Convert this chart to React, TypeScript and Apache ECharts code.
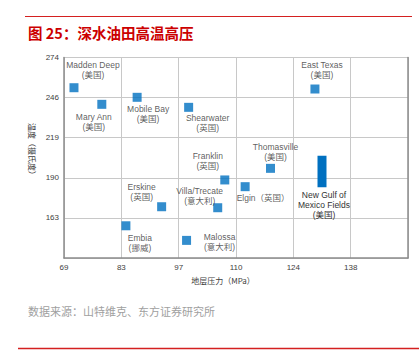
import React, { useEffect, useRef } from "react";
import * as echarts from "echarts";

// ---- data ----
const sites = ["Madden Deep", "Mary Ann", "Mobile Bay", "Shearwater", "East Texas", "Thomasville", "Franklin", "Villa/Trecate", "Elgin", "Erskine", "Embia", "Malossa"];
const countries = ["美国", "美国", "美国", "英国", "美国", "美国", "英国", "意大利", "英国", "英国", "挪威", "意大利"];
const pressure = [71.4, 78.1, 86.6, 99.0, 129.4, 118.7, 107.7, 106.0, 112.6, 92.5, 83.9, 98.5];
const temperature = [253.4, 241.8, 246.7, 239.7, 252.5, 197.1, 189.0, 169.6, 184.3, 170.3, 157.0, 146.8];

const gulfName = "New Gulf of\nMexico Fields";
const gulfCountry = "美国";
const gulfPressure = 131.1;
const gulfTempRange = [183.9, 205.9];

const xTickLabels = ["69", "83", "97", "110", "124", "138", ""];
const yTickLabels = ["", "163", "190", "219", "246", "274"];

// axis frames (axes drawn from an offset origin)
const X_MIN = 69;
const X_STEP = 13.8;
const X_COUNT = 6;
const Y_MIN = 134.5;
const Y_STEP = 28;
const Y_COUNT = 5;

// label offsets relative to marker centre (style)
const labelOffsets: Record<string, [number, number]> = {
  "Madden Deep": [19, -17.5],
  "Mary Ann": [-8, 17.5],
  "Mobile Bay": [11, 17],
  "Shearwater": [19, 16],
  "East Texas": [7, -19],
  "Thomasville": [5, -16],
  "Franklin": [-17, -19],
  "Villa/Trecate": [-18, -12],
  "Elgin": [18, 11.5],
  "Erskine": [-20, -15],
  "Embia": [14, 17],
  "Malossa": [33, 2],
};

const LATIN = '"Liberation Sans", Arial, "Noto Sans CJK SC", sans-serif';
const CJK = '"Noto Sans CJK SC", "Liberation Sans", sans-serif';
const BLUE = "#0070c0";
const RED = "#d42020";

export default function App() {
  const ref = useRef<HTMLDivElement>(null);
  useEffect(() => {
    if (!ref.current) return;
    const chart = echarts.init(ref.current, null, { renderer: "svg" });

    const scatterData = sites.map((s, i) => {
      const label = s === "Elgin" ? `${s}（${countries[i]}）` : `${s}\n(${countries[i]})`;
      return {
        value: [pressure[i] - X_MIN, temperature[i] - Y_MIN],
        label: {
          show: true,
          formatter: label,
          position: "inside",
          offset: labelOffsets[s],
          align: "center",
          verticalAlign: "middle",
        },
      };
    });

    const option: any = {
      animation: false,
      grid: { left: 64, top: 57.5, right: 11, bottom: 102, containLabel: false },
      xAxis: {
        type: "value",
        min: 0,
        max: X_STEP * X_COUNT,
        interval: X_STEP,
        axisLine: { show: true, lineStyle: { color: "#8c8c8c", width: 1.5 } },
        axisTick: { show: false },
        splitLine: { show: true, lineStyle: { color: "#c8c8c8", width: 1 } },
        axisLabel: {
          margin: 5,
          fontSize: 8,
          color: "#404040",
          fontFamily: LATIN,
          formatter: (_v: number, idx: number) => xTickLabels[idx] ?? "",
          showMaxLabel: false,
        },
      },
      yAxis: [
        {
          type: "value",
          min: 0,
          max: Y_STEP * Y_COUNT,
          interval: Y_STEP,
          axisLine: { show: true, lineStyle: { color: "#8c8c8c", width: 1.5 } },
          axisTick: { show: false },
          splitLine: { show: true, lineStyle: { color: "#c8c8c8", width: 1 } },
          axisLabel: {
            margin: 5,
            fontSize: 8,
            color: "#404040",
            fontFamily: LATIN,
            formatter: (_v: number, idx: number) => yTickLabels[idx] ?? "",
          },
        },
        {
          type: "value",
          position: "right",
          min: 0,
          max: Y_STEP * Y_COUNT,
          interval: Y_STEP,
          axisLine: { show: true, lineStyle: { color: "#8c8c8c", width: 1.5 } },
          axisTick: { show: false },
          axisLabel: { show: false },
          splitLine: { show: false },
        },
      ],
      series: [
        {
          type: "scatter",
          symbol: "rect",
          symbolSize: 9,
          itemStyle: { color: BLUE },
          label: {
            fontSize: 8.5,
            lineHeight: 10,
            color: "#333",
            fontFamily: LATIN,
          },
          data: scatterData,
        },
        {
          type: "custom",
          data: [[gulfPressure - X_MIN, gulfTempRange[0] - Y_MIN, gulfTempRange[1] - Y_MIN]],
          renderItem: (_params: any, api: any) => {
            const lo = api.coord([api.value(0), api.value(1)]);
            const hi = api.coord([api.value(0), api.value(2)]);
            return {
              type: "group",
              children: [
                {
                  type: "rect",
                  shape: { x: lo[0] - 4.5, y: hi[1], width: 9, height: lo[1] - hi[1] },
                  style: { fill: BLUE },
                },
                {
                  type: "text",
                  x: lo[0] + 2,
                  y: lo[1] + 17.7,
                  style: {
                    text: `${gulfName}\n(${gulfCountry})`,
                    fontSize: 8.5,
                    lineHeight: 10,
                    fill: "#333",
                    fontFamily: LATIN,
                    align: "center",
                    verticalAlign: "middle",
                  },
                },
              ],
            };
          },
        },
      ],
      graphic: [
        { type: "line", shape: { x1: 25, y1: 16.5, x2: 412, y2: 16.5 }, style: { stroke: RED, lineWidth: 1 } },
        {
          type: "text",
          x: 28,
          y: 32,
          style: {
            text: "图 25：深水油田高温高压",
            fontSize: 14.5,
            fontWeight: "bold",
            fill: "#cc0000",
            fontFamily: CJK,
            verticalAlign: "middle",
          },
        },
        {
          type: "text",
          x: 223,
          y: 280,
          style: {
            text: "地层压力（MPa）",
            fontSize: 8,
            fill: "#404040",
            fontFamily: CJK,
            align: "center",
            verticalAlign: "middle",
          },
        },
        {
          type: "text",
          x: 32,
          y: 151,
          rotation: -Math.PI / 2,
          style: {
            text: "温度（摄氏度）",
            fontSize: 8,
            fill: "#404040",
            fontFamily: CJK,
            align: "center",
            verticalAlign: "middle",
          },
        },
        {
          type: "text",
          x: 28,
          y: 311,
          style: {
            text: "数据来源：山特维克、东方证券研究所",
            fontSize: 11,
            fill: "#a0a0a0",
            fontFamily: CJK,
            verticalAlign: "middle",
          },
        },
        { type: "line", shape: { x1: 18, y1: 348.5, x2: 419, y2: 348.5 }, style: { stroke: RED, lineWidth: 1.5 } },
      ],
    };
    chart.setOption(option);
    return () => chart.dispose();
  }, []);
  return (
    <div
      ref={ref}
      style={{ position: "fixed", left: 0, top: 0, width: 419, height: 360, background: "#fff" }}
    />
  );
}
